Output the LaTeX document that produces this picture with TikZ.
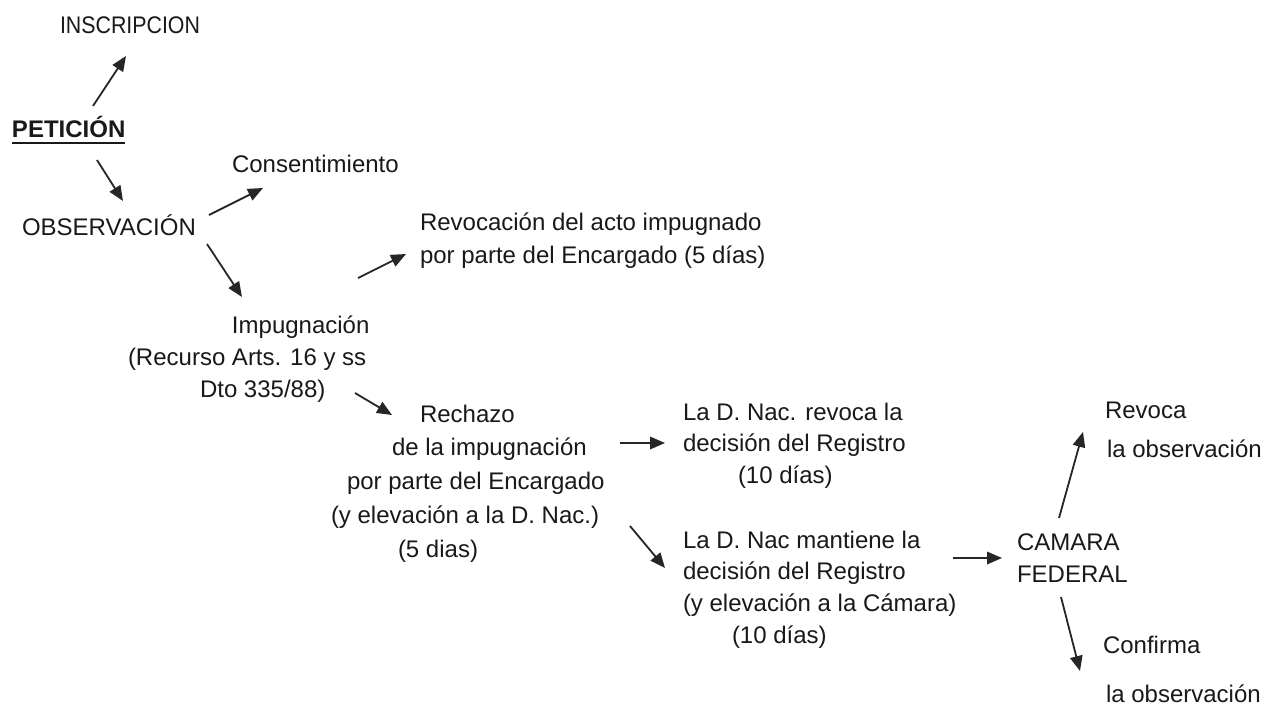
\documentclass[tikz,border=0pt]{standalone}
\usepackage{fontspec}
\setmainfont{Liberation Sans}
\usetikzlibrary{arrows.meta,calc}
\newcommand{\mystrut}{\rule{0pt}{24pt}}
\begin{document}
\begin{tikzpicture}[x=1pt,y=-1pt,
  blk/.style={font=\fontsize{24}{32}\selectfont, align=left, inner sep=0pt, outer sep=0pt, anchor=north west, text=black!90},
  arr/.style={line width=1.8pt, draw=black!85, -{Triangle[length=15pt,width=12.5pt]}}]
\useasboundingbox[fill=white] (0,0) rectangle (1286,710);

% nodes
\node[blk] (insc) at (60,9) {\mystrut\scalebox{0.89}[1]{INSCRIPCION}};
\node[blk, font=\bfseries\fontsize{24}{32}\selectfont] (pet) at (12,113) {\mystrut PETICIÓN};
\node[blk] (obs) at (22,211) {\mystrut OBSERVACIÓN};
\node[blk] (cons) at (232,148) {\mystrut Consentimiento};
\node[blk, font=\fontsize{24}{33}\selectfont] (revo) at (420,206)
  {\mystrut Revocación del acto impugnado\\por parte del Encargado (5 días)};
\node[blk] (imp) at (128,309)
  {\hspace*{104pt}\mystrut Impugnación\\(Recurso Arts. 16 y ss\\\hspace*{72pt}Dto 335/88)};
\node[blk, font=\fontsize{24}{33.75}\selectfont] (rech) at (331,398)
  {\hspace*{89pt}\mystrut Rechazo\\\hspace*{61pt}de la impugnación\\\hspace*{16pt}por parte del Encargado\\(y elevación a la D. Nac.)\\\hspace*{67pt}(5 dias)};
\node[blk, font=\fontsize{24}{31.5}\selectfont] (dnrev) at (683,396)
  {\mystrut La D. Nac. revoca la\\decisión del Registro\\\hspace*{55pt}(10 días)};
\node[blk, font=\fontsize{24}{31.7}\selectfont] (dnman) at (683,524)
  {\mystrut La D. Nac mantiene la\\decisión del Registro\\(y elevación a la Cámara)\\\hspace*{49pt}(10 días)};
\node[blk] (cam) at (1017,526) {\mystrut CAMARA\\FEDERAL};
\node[blk, font=\fontsize{24}{39}\selectfont] (rvc) at (1105,394)
  {\mystrut Revoca\\\hspace*{2pt}la observación};
\node[blk, font=\fontsize{24}{49}\selectfont] (conf) at (1103,629)
  {\mystrut Confirma\\\hspace*{3pt}la observación};

% underline of PETICION
\draw[line width=2pt, black!90] ([shift={(0,6)}]pet.base west) -- ([shift={(0,6)}]pet.base east);

% connectors
\draw[arr] ([shift={(81,-7)}]pet.north west) -- ([shift={(66,47)}]insc.north west);
\draw[arr] ([shift={(85,47)}]pet.north west) -- ([shift={(101,-10)}]obs.north west);
\draw[arr] ([shift={(187,4)}]obs.north west) -- ([shift={(31,40)}]cons.north west);
\draw[arr] ([shift={(185,33)}]obs.north west) -- ([shift={(114,-12)}]imp.north west);
\draw[arr] ([shift={(230,-31)}]imp.north west) -- ([shift={(-14,48)}]revo.north west);
\draw[arr] ([shift={(227,84)}]imp.north west) -- ([shift={(61,17)}]rech.north west);
\draw[arr] ([shift={(289,45)}]rech.north west) -- ([shift={(-18,47)}]dnrev.north west);
\draw[arr] ([shift={(299,128)}]rech.north west) -- ([shift={(-18,44)}]dnman.north west);
\draw[arr] ([shift={(270,34)}]dnman.north west) -- ([shift={(-15,32)}]cam.north west);
\draw[arr] ([shift={(42,-8)}]cam.north west) -- ([shift={(-22,38)}]rvc.north west);
\draw[arr] ([shift={(44,71)}]cam.north west) -- ([shift={(-23,42)}]conf.north west);
\end{tikzpicture}
\end{document}
